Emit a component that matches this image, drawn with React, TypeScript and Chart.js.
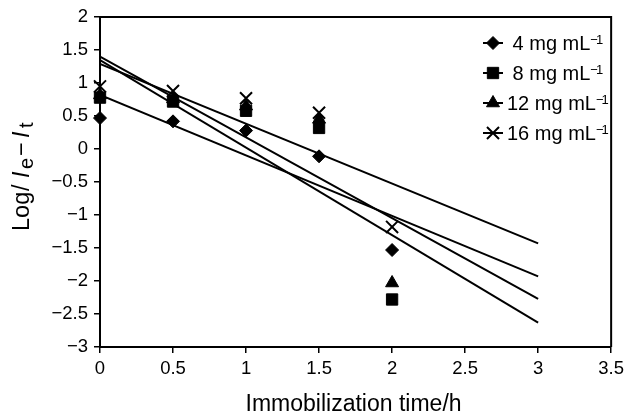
import React, { useEffect, useRef } from 'react';
import { Chart, registerables } from 'chart.js';
import { drawPoint } from 'chart.js/helpers';

Chart.register(...registerables);

// ---- data ----
const times = [0, 0.5, 1, 1.5, 2];
const conc4 = [0.47, 0.42, 0.28, -0.11, -1.53];
const conc8 = [0.78, 0.72, 0.58, 0.32, -2.28];
const conc12 = [0.82, 0.76, 0.65, 0.45, -2.03];
const conc16 = [0.95, 0.88, 0.77, 0.55, -1.18];

const fitTimes = [0, 3];
const fit4 = [0.82, -1.93];
const fit8 = [1.35, -2.63];
const fit12 = [1.4, -2.27];
const fit16 = [1.29, -1.43];

const seriesNames = [' 4 mg mL', ' 8 mg mL', '12 mg mL', '16 mg mL'];
const xTickValues = [0, 0.5, 1, 1.5, 2, 2.5, 3, 3.5];
const yTickValues = [-3, -2.5, -2, -1.5, -1, -0.5, 0, 0.5, 1, 1.5, 2];
const xTitle = 'Immobilization time/h';

const FONT = '"Liberation Sans", Arial, Helvetica, sans-serif';
const BLACK = '#000000';

const markerStyles = [
  { pointStyle: 'rectRot', radius: 6.5, borderWidth: 1, rotation: 0 },
  { pointStyle: 'rect', radius: 8, borderWidth: 1, rotation: 0 },
  { pointStyle: 'triangle', radius: 7.5, borderWidth: 1, rotation: 0 },
  { pointStyle: 'crossRot', radius: 8.5, borderWidth: 2, rotation: 0 },
];

const fmt = (v: number) => (v < 0 ? '\u2212' : '') + String(Math.abs(v));

const decorPlugin = {
  id: 'decor',
  afterDraw(chart: any) {
    const { ctx, chartArea: a } = chart;
    ctx.save();
    // box (top and right edges)
    ctx.strokeStyle = BLACK;
    ctx.lineWidth = 2;
    ctx.beginPath();
    ctx.moveTo(a.left, a.top);
    ctx.lineTo(a.right, a.top);
    ctx.lineTo(a.right, a.bottom);
    ctx.stroke();

    ctx.fillStyle = BLACK;
    // x title
    ctx.font = `23px ${FONT}`;
    ctx.textAlign = 'center';
    ctx.textBaseline = 'alphabetic';
    ctx.fillText(xTitle, (a.left + a.right) / 2 - 2, 411);

    // y title: Log/Ie−It with italic I and subscripts
    ctx.save();
    ctx.translate(29, 231);
    ctx.rotate(-Math.PI / 2);
    ctx.textAlign = 'left';
    const pieces: [string, string, number, number][] = [
      ['Log', `23.5px ${FONT}`, 0, 0],
      ['/', `23.5px ${FONT}`, 40, 0],
      ['I', `italic 23.5px ${FONT}`, 53, 0],
      ['e', `20px ${FONT}`, 62, 4],
      ['\u2212', `23.5px ${FONT}`, 75, 0],
      ['I', `italic 23.5px ${FONT}`, 93, 0],
      ['t', `20px ${FONT}`, 103, 4],
    ];
    for (const [t, f, x, dy] of pieces) {
      ctx.font = f;
      ctx.fillText(t, x, dy);
    }
    ctx.restore();

    // legend
    for (let i = 0; i < seriesNames.length; i++) {
      const cy = 43 + 30 * i;
      ctx.strokeStyle = BLACK;
      ctx.lineWidth = 2;
      ctx.beginPath();
      ctx.moveTo(483, cy);
      ctx.lineTo(503, cy);
      ctx.stroke();
      ctx.fillStyle = BLACK;
      ctx.strokeStyle = BLACK;
      const m = markerStyles[i];
      ctx.lineWidth = m.borderWidth;
      drawPoint(ctx, m as any, 493, cy);
      ctx.fillStyle = BLACK;
      ctx.font = `20px ${FONT}`;
      ctx.textAlign = 'left';
      ctx.textBaseline = 'alphabetic';
      const name = seriesNames[i];
      ctx.fillText(name, 507, cy + 7);
      const w = ctx.measureText(name).width;
      ctx.font = `13px ${FONT}`;
      ctx.fillText('\u2212', 507 + w, cy + 1);
      const mw = ctx.measureText('\u2212').width;
      ctx.fillText('1', 507 + w + mw - 2, cy + 1);
    }
    ctx.restore();
  },
};

export default function App() {
  const ref = useRef<HTMLCanvasElement | null>(null);
  useEffect(() => {
    document.body.style.margin = '0';
    if (!ref.current) return;
    const markerSets = [conc4, conc8, conc12, conc16].map((vals, i) => ({
      label: seriesNames[i],
      data: times.map((t, j) => ({ x: t, y: vals[j] })),
      showLine: false,
      pointStyle: markerStyles[i].pointStyle,
      pointRadius: markerStyles[i].radius,
      pointHoverRadius: markerStyles[i].radius,
      pointBorderWidth: markerStyles[i].borderWidth,
      backgroundColor: BLACK,
      borderColor: BLACK,
      clip: false,
    }));
    const fitSets = [fit4, fit8, fit12, fit16].map((vals, i) => ({
      label: 'fit ' + seriesNames[i],
      data: fitTimes.map((t, j) => ({ x: t, y: vals[j] })),
      showLine: true,
      pointRadius: 0,
      borderColor: BLACK,
      borderWidth: 2,
      backgroundColor: BLACK,
      fill: false,
    }));
    const chart = new Chart(ref.current, {
      type: 'scatter',
      data: { datasets: [...markerSets, ...fitSets] as any },
      plugins: [decorPlugin],
      options: {
        animation: false,
        responsive: false,
        devicePixelRatio: 1,
        events: [],
        layout: { padding: { top: 16, right: 15, left: 0, bottom: 0 } },
        plugins: { legend: { display: false }, tooltip: { enabled: false }, title: { display: false } },
        scales: {
          x: {
            type: 'linear',
            min: 0,
            max: 3.5,
            afterBuildTicks: (s: any) => {
              s.ticks = xTickValues.map((value) => ({ value }));
            },
            afterFit: (s: any) => {
              s.height = 66;
            },
            ticks: {
              color: BLACK,
              font: { family: FONT, size: 18.5 },
              padding: 5,
              maxRotation: 0,
              autoSkip: false,
              callback: (v: any) => fmt(Number(v)),
            },
            grid: { drawOnChartArea: false, drawTicks: true, tickLength: 6, color: BLACK, lineWidth: 1.5 },
            border: { display: true, color: BLACK, width: 2 },
          },
          y: {
            type: 'linear',
            min: -3,
            max: 2,
            afterBuildTicks: (s: any) => {
              s.ticks = yTickValues.map((value) => ({ value }));
            },
            afterFit: (s: any) => {
              s.width = 100;
            },
            ticks: {
              color: BLACK,
              font: { family: FONT, size: 18.5 },
              padding: 6,
              autoSkip: false,
              callback: (v: any) => fmt(Number(v)),
            },
            grid: { drawOnChartArea: false, drawTicks: true, tickLength: 6, color: BLACK, lineWidth: 1.5 },
            border: { display: true, color: BLACK, width: 2 },
          },
        },
      } as any,
    });
    return () => chart.destroy();
  }, []);
  return (
    <div style={{ width: 629, height: 413 }}>
      <canvas ref={ref} width={629} height={413} style={{ display: 'block' }} />
    </div>
  );
}
